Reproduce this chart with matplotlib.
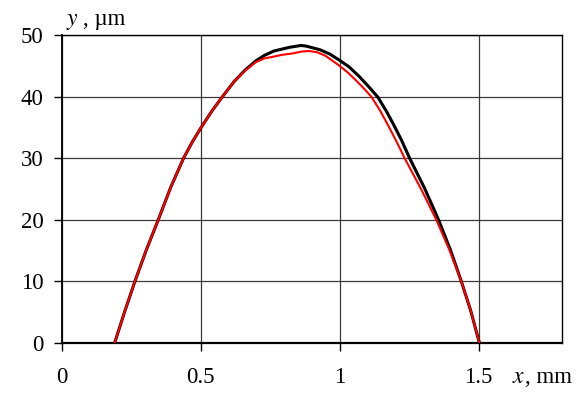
import matplotlib
matplotlib.use("Agg")
import matplotlib.pyplot as plt

# measured profile (black)
x_black = [0.191, 0.228, 0.264, 0.305, 0.348, 0.393, 0.439, 0.470, 0.501, 0.540, 0.579,
           0.620, 0.660, 0.699, 0.730, 0.764, 0.820, 0.861, 0.880, 0.930, 0.965,
           1.000, 1.035, 1.070, 1.105, 1.138, 1.170, 1.195, 1.222, 1.252, 1.305,
           1.356, 1.398, 1.438, 1.472, 1.503]
y_black = [0.0, 5.2, 10.0, 15.1, 20.0, 25.3, 30.0, 32.6, 34.9, 37.6, 40.0,
           42.4, 44.3, 45.8, 46.7, 47.4, 48.0, 48.3, 48.2, 47.6, 46.9,
           45.9, 44.8, 43.3, 41.6, 39.9, 37.5, 35.4, 33.0, 30.0, 25.2,
           20.0, 15.2, 10.0, 5.2, 0.0]

# second profile (red)
x_red = [0.191, 0.228, 0.264, 0.305, 0.348, 0.393, 0.439, 0.470, 0.501, 0.540, 0.579,
         0.620, 0.660, 0.699, 0.730, 0.764, 0.789, 0.830, 0.861, 0.890, 0.920,
         0.950, 1.000, 1.030, 1.060, 1.090, 1.114, 1.145, 1.175, 1.205, 1.234,
         1.292, 1.348, 1.395, 1.438, 1.472, 1.503]
y_red = [0.0, 5.2, 10.0, 15.1, 20.0, 25.3, 30.0, 32.6, 34.9, 37.6, 40.0,
         42.4, 44.2, 45.6, 46.2, 46.5, 46.75, 47.0, 47.3, 47.4, 47.2,
         46.6, 45.0, 43.9, 42.6, 41.2, 40.0, 37.8, 35.3, 32.7, 30.0,
         25.1, 20.0, 15.1, 10.0, 5.2, 0.0]

x_ticks = [0, 0.5, 1, 1.5]
x_tick_labels = ["0", "0.5", "1", "1.5"]
y_ticks = [0, 10, 20, 30, 40, 50]
y_tick_labels = ["0", "10", "20", "30", "40", "50"]

plt.rcParams['font.family'] = ['Liberation Serif', 'DejaVu Serif']

fig = plt.figure(figsize=(5.87, 3.96), dpi=100)
ax = fig.add_axes([61.5/587, 53/396, (562-61.5)/587, (343-35)/396])

ax.plot(x_black, y_black, color='black', lw=2.2, zorder=3)
ax.plot(x_red, y_red, color='#ff0000', lw=1.5, zorder=4)

ax.set_xlim(0, 1.8)
ax.set_ylim(0, 50)
ax.set_xticks(x_ticks)
ax.set_xticklabels(x_tick_labels)
ax.set_yticks(y_ticks)
ax.set_yticklabels(y_tick_labels)
ax.grid(True, color='#3a3a3a', lw=0.9)
ax.set_axisbelow(True)
ax.tick_params(axis='both', direction='out', length=5.8, width=1, labelsize=16.5, color='black')
ax.tick_params(axis='y', pad=7)
ax.tick_params(axis='x', pad=11.5)
for s in ax.spines.values():
    s.set_color('black')
    s.set_linewidth(1.0)
ax.spines['bottom'].set_linewidth(1.6)
ax.spines['left'].set_linewidth(1.3)

fig.text(66/587, 1 - 25/396, r"$\mathit{y}$", fontsize=17, ha='left', va='baseline',
         math_fontfamily='stix')
fig.text(83/587, 1 - 25/396, ", µm", fontsize=16.5, ha='left', va='baseline')
fig.text(512/587, 1 - 383/396, r"$\mathit{x}$", fontsize=17, ha='left', va='baseline',
         math_fontfamily='stix')
fig.text(525/587, 1 - 383/396, ", mm", fontsize=16.5, ha='left', va='baseline')

fig.savefig("out.png", dpi=100)
